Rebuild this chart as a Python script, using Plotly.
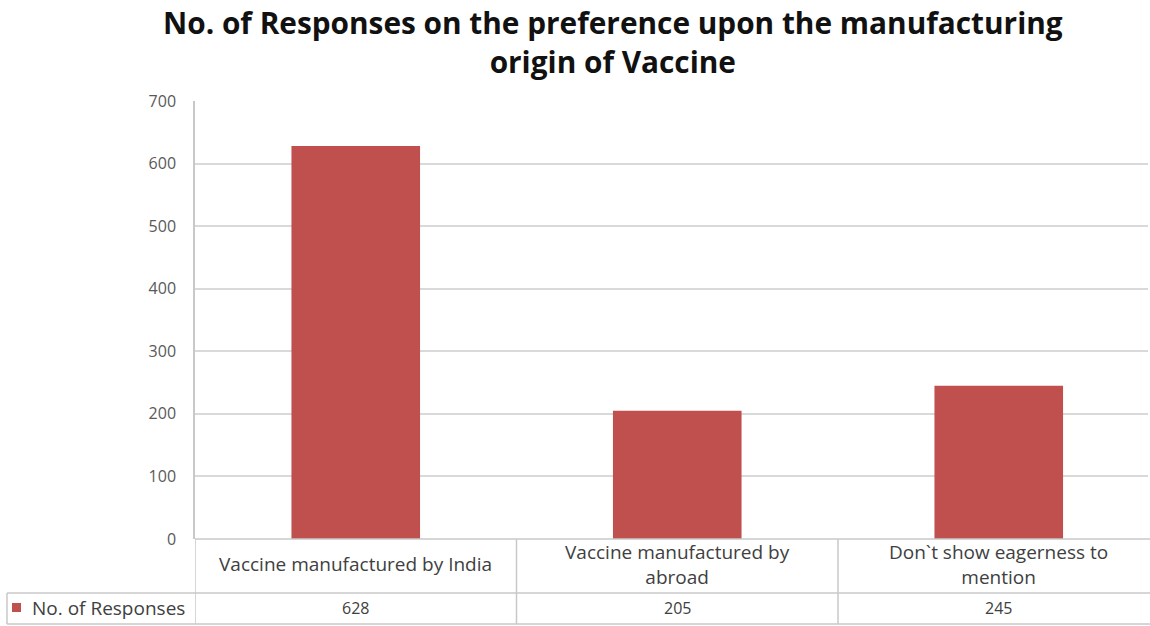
import plotly.graph_objects as go

# ---- data ----
categories = ["Vaccine manufactured by India",
              "Vaccine manufactured by abroad",
              "Don`t show eagerness to mention"]
category_labels = ["Vaccine manufactured by India",
                   "Vaccine manufactured by<br>abroad",
                   "Don`t show eagerness to<br>mention"]
responses = [628, 205, 245]
series_name = "No. of Responses"
y_ticks = [0, 100, 200, 300, 400, 500, 600, 700]
title_text = "No. of Responses on the preference upon the manufacturing<br>origin of Vaccine"

BAR = "#C0504D"
GRID = "#D9D9D9"
TABLE = "#C8C8C8"
TXT = "#404040"
FONT = "Open Sans"

W, H = 1150, 626
L, R, T, B = 195, 2, 101, 87
plot_h = H - T - B
plot_w = W - L - R
cat_w = 321.5  # pixel width of one category column
x_max = -0.5 + plot_w / cat_w

def py(pix):  # pixel y (from top) -> paper y
    return (H - B - pix) / plot_h

def px(pix):  # pixel x -> paper x
    return (pix - L) / plot_w

fig = go.Figure()
fig.add_trace(go.Bar(x=list(range(len(categories))), y=responses, name=series_name,
                     marker=dict(color=BAR, line=dict(width=0)),
                     hovertext=categories))

shapes = []
row1_bottom = py(593)
row2_bottom = py(624)
# horizontal table lines
shapes.append(dict(type="line", xref="paper", yref="paper", x0=0, x1=1.01, y0=0, y1=0,
                   line=dict(color=TABLE, width=1.5)))
shapes.append(dict(type="line", xref="paper", yref="paper", x0=px(7), x1=1.01,
                   y0=row1_bottom, y1=row1_bottom, line=dict(color=TABLE, width=1.5)))
shapes.append(dict(type="line", xref="paper", yref="paper", x0=px(7), x1=1.01,
                   y0=row2_bottom, y1=row2_bottom, line=dict(color=TABLE, width=1.5)))
# left border of legend cell
shapes.append(dict(type="line", xref="paper", yref="paper", x0=px(7), x1=px(7),
                   y0=row1_bottom, y1=row2_bottom, line=dict(color=TABLE, width=1.5)))
# vertical separators at category boundaries
for i in range(len(categories) + 1):
    xb = i - 0.5
    shapes.append(dict(type="line", xref="x", yref="paper", x0=xb, x1=xb,
                       y0=0, y1=row2_bottom,
                       line=dict(color=TABLE, width=1.5)))
# legend key
shapes.append(dict(type="rect", xref="paper", yref="paper", x0=px(12), x1=px(21),
                   y0=py(612), y1=py(603), fillcolor=BAR, line=dict(width=0)))

annotations = []
for i, (lab, v) in enumerate(zip(category_labels, responses)):
    annotations.append(dict(x=i, y=py(564), xref="x", yref="paper", text=lab,
                            showarrow=False, font=dict(family=FONT, size=19, color=TXT),
                            xanchor="center", yanchor="middle", align="center"))
    annotations.append(dict(x=i, y=py(608), xref="x", yref="paper", text=str(v),
                            showarrow=False, font=dict(family=FONT, size=16, color=TXT),
                            xanchor="center", yanchor="middle"))
annotations.append(dict(x=px(30), y=py(608), xref="paper", yref="paper", text=series_name,
                        showarrow=False, font=dict(family=FONT, size=19, color=TXT),
                        xanchor="left", yanchor="middle"))
# title
annotations.append(dict(x=px(613), y=py(0), xref="paper", yref="paper", text=title_text,
                        showarrow=False, xanchor="center", yanchor="top", align="center",
                        font=dict(family=FONT, size=29.8, color="#111111", weight="bold")))

fig.update_layout(
    width=W, height=H,
    margin=dict(l=L, r=R, t=T, b=B),
    paper_bgcolor="white", plot_bgcolor="white",
    showlegend=False,
    bargap=0.6,
    xaxis=dict(range=[-0.5, x_max], showticklabels=False, showgrid=False, zeroline=False,
               ticks="", fixedrange=True),
    yaxis=dict(range=[0, 700], tickvals=y_ticks, showgrid=True, gridcolor=GRID, gridwidth=1.5,
               zeroline=False, showline=True, linecolor=TABLE, linewidth=1.5,
               ticks="", ticklabelstandoff=14,
               tickfont=dict(family=FONT, size=16, color="#595959")),
    shapes=shapes,
    annotations=annotations,
)

fig.write_html("out.html", config={"displayModeBar": False},
               post_script="document.body.style.margin='0px';")
